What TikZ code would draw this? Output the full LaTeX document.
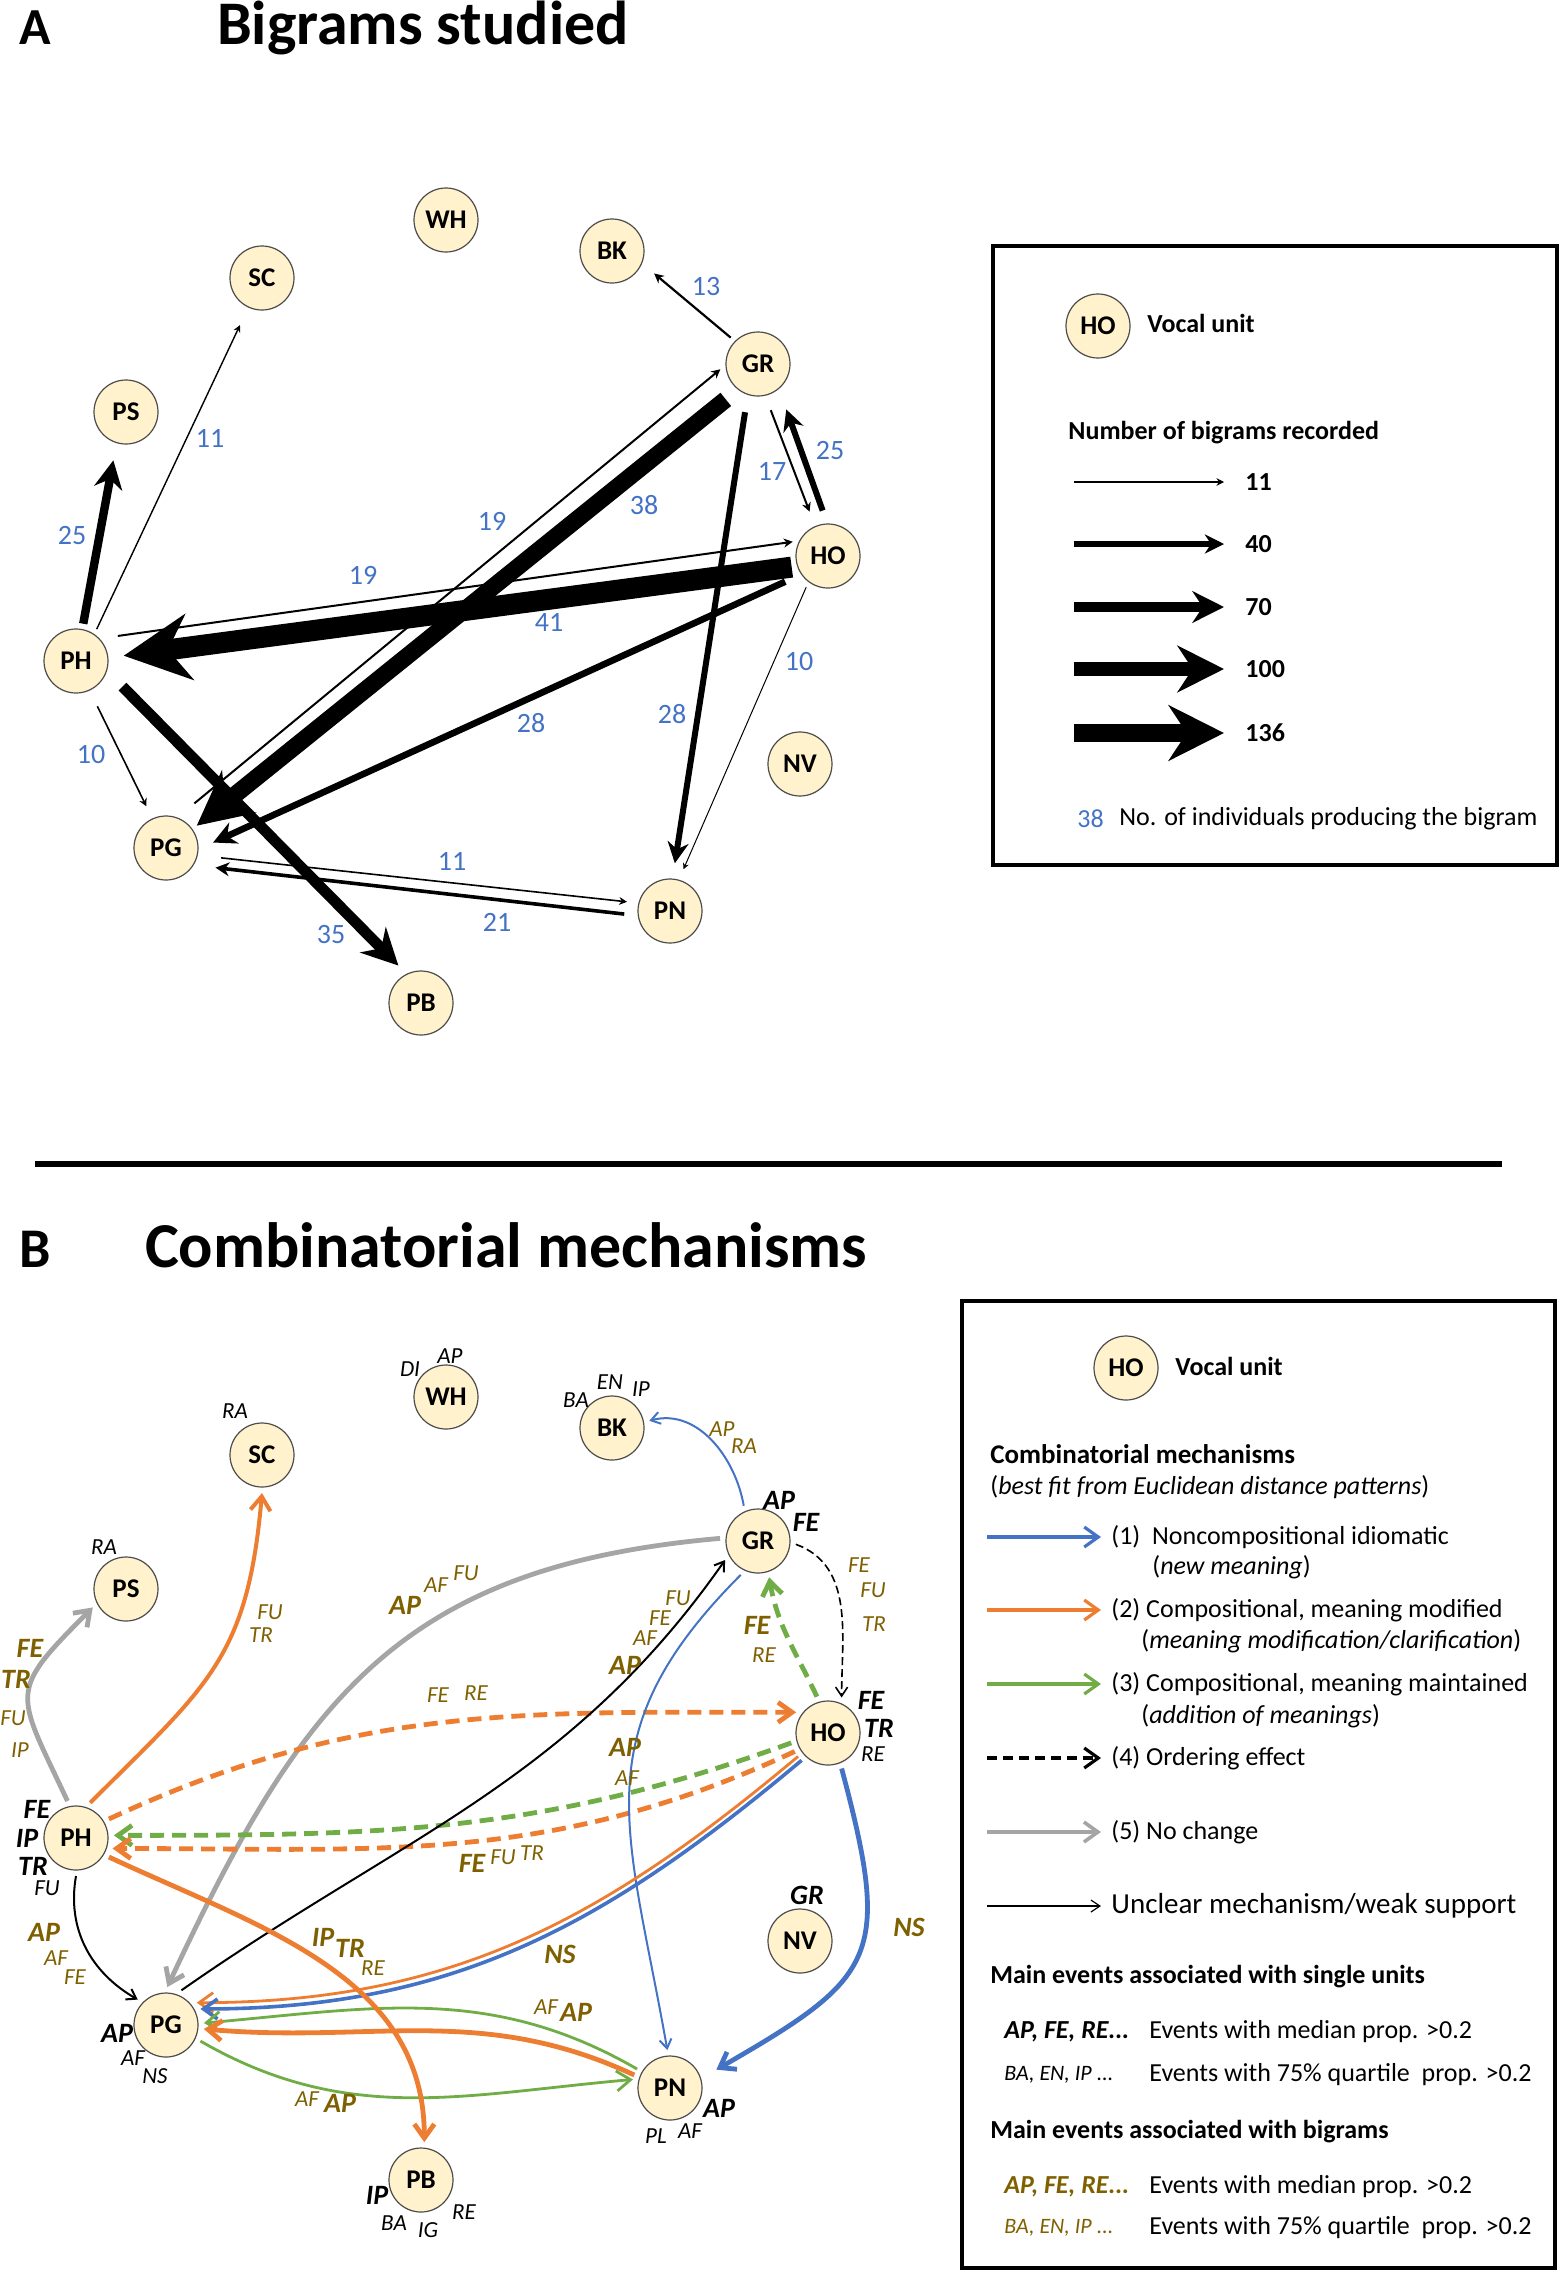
\documentclass[tikz,border=0pt]{standalone}
\usepackage{fontspec}
\setmainfont{Carlito}
\usetikzlibrary{arrows.meta}
\definecolor{cream}{HTML}{FFF2CC}
\definecolor{nblue}{HTML}{4472C4}
\definecolor{norange}{HTML}{ED7D31}
\definecolor{ngreen}{HTML}{70AD47}
\definecolor{ngray}{HTML}{A5A5A5}
\definecolor{olive}{HTML}{7F6000}
\newcommand{\fsz}[1]{\fontsize{#1}{#1}\selectfont}
\tikzset{
  vunit/.style={circle,draw=black!70,line width=0.6pt,fill=cream,minimum size=32pt,inner sep=0pt,outer sep=3pt,font=\fsz{13.5}\bfseries},
  num/.style={text=nblue,font=\fsz{14}},
  ev/.style={inner sep=0pt,font=\fsz{14}\bfseries\itshape},
  evs/.style={inner sep=0pt,font=\fsz{11.5}\itshape},
  bev/.style={ev,text=olive},
  bevs/.style={evs,text=olive},
  txt/.style={anchor=west,inner sep=0pt,font=\fsz{13}},
  btxt/.style={txt,font=\fsz{13}\bfseries},
  big/.style={-{Stealth[length=1.5pt 3,width=1.5pt 3]}},
  barb/.style={-{Straight Barb[length=7pt,width=10pt]}},
  sbarb/.style={-{Straight Barb[length=4.5pt,width=6pt]}},
  idiom/.style={draw=nblue},
  modif/.style={draw=norange},
  maint/.style={draw=ngreen},
  nochange/.style={draw=ngray},
  bdash/.style={dash pattern=on 7pt off 4pt},
}
\begin{document}
\begin{tikzpicture}[x=0.5pt,y=0.5pt]
\useasboundingbox (0,0) rectangle (1560,-2270);

% panel A
\node[anchor=base west,font=\fsz{26}\bfseries] at (12,-44) {A};
\node[anchor=base west,font=\fsz{31}\bfseries] at (210,-44) {Bigrams studied};

\node[vunit] (aWH) at (446,-220) {WH};
\node[vunit] (aSC) at (262,-278) {SC};
\node[vunit] (aBK) at (612,-251) {BK};
\node[vunit] (aPS) at (126,-412) {PS};
\node[vunit] (aGR) at (758,-364) {GR};
\node[vunit] (aHO) at (828,-556) {HO};
\node[vunit] (aPH) at (76,-661) {PH};
\node[vunit] (aNV) at (800,-764) {NV};
\node[vunit] (aPG) at (166,-848) {PG};
\node[vunit] (aPN) at (670,-911) {PN};
\node[vunit] (aPB) at (421,-1003) {PB};

\draw[big,line width=1.1pt,shorten >=5pt] (aGR.136) -- (aBK.-25);
\draw[big,line width=0.7pt,shorten >=7pt] (aPH.57) -- (aSC.245);
\draw[big,line width=4.2pt,shorten >=6pt] (aPH.79) -- (aPS.254);
\draw[big,line width=1pt,shorten <=6pt] (aPH.38) -- (aHO.158);
\draw[big,line width=10.5pt,shorten >=5pt] (aHO.197) -- (aPH.6);
\draw[big,line width=1pt,shorten <=8pt] (aPG.65) -- (aGR.188);
\draw[big,line width=8.5pt,shorten <=5pt] (aGR.230) -- (aPG.36);
\draw[big,line width=1pt,shorten <=5pt,shorten >=5pt] (aGR.-76) -- (aHO.113);
\draw[big,line width=3pt,shorten <=4pt,shorten >=8pt] (aHO.94) -- (aGR.-53);
\draw[big,line width=3pt,shorten <=6pt,shorten >=5pt] (aGR.253) -- (aPN.85);
\draw[big,line width=3.3pt,shorten <=6pt,shorten >=5pt] (aHO.213) -- (aPG.2);
\draw[big,line width=0.5pt,shorten >=3pt] (aHO.235) -- (aPN.73);
\draw[big,line width=0.8pt,shorten <=6pt,shorten >=4pt] (aPH.-65) -- (aPG.115);
\draw[big,line width=5.5pt,shorten <=8pt,shorten >=3pt] (aPH.-22) -- (aPB.119);
\draw[big,line width=0.8pt,shorten <=9pt,shorten >=3pt] (aPG.-12) -- (aPN.167);
\draw[big,line width=1.8pt,shorten <=4pt,shorten >=8pt] (aPN.186) -- (aPG.-28);

\node[num] at (706,-287) {13};
\node[num] at (210,-438) {11};
\node[num] at (72,-536) {25};
\node[num] at (492,-521) {19};
\node[num] at (644,-505) {38};
\node[num] at (772,-471) {17};
\node[num] at (830,-451) {25};
\node[num] at (363,-575) {19};
\node[num] at (549,-622) {41};
\node[num] at (799,-662) {10};
\node[num] at (672,-714) {28};
\node[num] at (531,-723) {28};
\node[num] at (91,-755) {10};
\node[num] at (452,-861) {11};
\node[num] at (497,-922) {21};
\node[num] at (331,-934) {35};

% key A
\draw[line width=2pt] (993,-246) rectangle (1557,-865);
\node[vunit] (aKey) at (1098,-326) {HO};
\node[btxt] at (1147,-323) {Vocal unit};
\node[btxt] at (1068,-433) {Number of bigrams recorded};
\draw[big,line width=0.75pt] (1074,-482) -- (1224,-482);
\draw[big,line width=2.7pt] (1074,-544) -- (1224,-544);
\draw[big,line width=4.75pt] (1074,-607) -- (1224,-607);
\draw[big,line width=7.25pt] (1074,-669) -- (1224,-669);
\draw[big,line width=8.7pt] (1074,-733) -- (1224,-733);
\node[btxt] at (1245,-482) {11};
\node[btxt] at (1245,-544) {40};
\node[btxt] at (1245,-607) {70};
\node[btxt] at (1245,-669) {100};
\node[btxt] at (1245,-733) {136};
\node[txt,text=nblue] at (1077,-819) {38};
\node[txt] at (1119,-819) {No. of individuals producing the bigram};

\draw[line width=2.8pt] (35,-1164) -- (1502,-1164);

% panel B
\node[anchor=base west,font=\fsz{28}\bfseries] at (12,-1267) {B};
\node[anchor=base west,font=\fsz{32}\bfseries] at (138,-1267) {Combinatorial mechanisms};

\node[vunit] (bWH) at (446,-1397) {WH};
\node[vunit] (bSC) at (262,-1455) {SC};
\node[vunit] (bBK) at (612,-1428) {BK};
\node[vunit] (bPS) at (126,-1589) {PS};
\node[vunit] (bGR) at (758,-1541) {GR};
\node[vunit] (bHO) at (828,-1733) {HO};
\node[vunit] (bPH) at (76,-1838) {PH};
\node[vunit] (bNV) at (800,-1941) {NV};
\node[vunit] (bPG) at (166,-2025) {PG};
\node[vunit] (bPN) at (670,-2088) {PN};
\node[vunit] (bPB) at (421,-2180) {PB};

\draw[idiom,line width=1pt,sbarb] (bGR.112) to[out=100,in=15] (bBK.11);
\draw[line width=0.8pt,dash pattern=on 4pt off 2pt,sbarb] (bGR.-5) to[out=-20,in=90] (bHO.69);
\draw[maint,line width=2.4pt,bdash,barb] (bHO.107) to[out=115,in=-80] (bGR.-73);
\draw[nochange,line width=2.4pt,barb] (bGR.176) to[out=185,in=65,looseness=1.15] (bPG.88);
\draw[nochange,line width=2.4pt,barb] (bPH.103) to[out=115,in=225,looseness=1.6] (bPS.209);
\draw[modif,line width=2pt,barb] (bPH.68) to[out=45,in=-95,looseness=1.2] (bSC.-90);
\draw[modif,line width=2.4pt,bdash,barb] (bPH.30) to[out=25,in=180] (bHO.147);
\draw[maint,line width=2.4pt,bdash,barb] (bHO.195) to[out=200,in=0] (bPH.4);
\draw[modif,line width=2.4pt,bdash,barb] (bHO.209) to[out=205,in=0] (bPH.-16);
\draw[line width=1pt,sbarb] (bPG.66) to[out=35,in=235] (bGR.210);
\draw[line width=1pt,sbarb] (bPH.-90) to[out=-100,in=150] (bPG.138);
\draw[idiom,line width=1pt,sbarb] (bGR.243) to[out=225,in=100,looseness=1.2] (bPN.94);
\draw[modif,line width=1.4pt,barb] (bHO.218) to[out=220,in=0] (bPG.36);
\draw[idiom,line width=1.8pt,barb] (bHO.226) to[out=220,in=0] (bPG.25);
\draw[maint,line width=1.4pt,barb] (bPN.150) to[out=150,in=5] (bPG.3);
\draw[modif,line width=2.4pt,barb] (bPN.160) to[out=155,in=-5] (bPG.-6);
\draw[maint,line width=1.4pt,barb] (bPG.-25) to[out=-30,in=185] (bPN.167);
\draw[modif,line width=2.4pt,barb] (bPH.-30) to[out=-25,in=90] (bPB.85);
\draw[idiom,line width=2.4pt,barb,shorten >=6pt] (bHO.-69) to[out=-75,in=30,looseness=1.5] (bPN.19);

% events of single units
\node[evs] at (410,-1369) {DI};
\node[evs] at (450,-1356) {AP};
\node[evs] at (235,-1411) {RA};
\node[evs] at (104,-1547) {RA};
\node[evs] at (576,-1400) {BA};
\node[evs] at (610,-1382) {EN};
\node[evs] at (641,-1389) {IP};
\node[ev] at (779,-1500) {AP};
\node[ev] at (806,-1522) {FE};
\node[ev] at (871,-1700) {FE};
\node[ev] at (879,-1728) {TR};
\node[evs] at (873,-1754) {RE};
\node[ev] at (37,-1809) {FE};
\node[ev] at (27,-1838) {IP};
\node[ev] at (33,-1866) {TR};
\node[evs] at (47,-1888) {FU};
\node[ev] at (117,-2033) {AP};
\node[evs] at (133,-2058) {AF};
\node[evs] at (155,-2076) {NS};
\node[ev] at (377,-2195) {IP};
\node[evs] at (394,-2223) {BA};
\node[evs] at (428,-2230) {IG};
\node[evs] at (464,-2212) {RE};
\node[ev] at (807,-1895) {GR};
\node[ev] at (719,-2108) {AP};
\node[evs] at (656,-2136) {PL};
\node[evs] at (690,-2131) {AF};

% events of bigrams
\node[bevs] at (722,-1429) {AP};
\node[bevs] at (744,-1446) {RA};
\node[bevs] at (859,-1565) {FE};
\node[bevs] at (873,-1590) {FU};
\node[bevs] at (874,-1624) {TR};
\node[bev] at (757,-1625) {FE};
\node[bevs] at (764,-1655) {RE};
\node[bev] at (405,-1605) {AP};
\node[bevs] at (436,-1585) {AF};
\node[bevs] at (466,-1573) {FU};
\node[bev] at (30,-1648) {FE};
\node[bev] at (16,-1679) {TR};
\node[bevs] at (13,-1718) {FU};
\node[bevs] at (20,-1750) {IP};
\node[bevs] at (270,-1612) {FU};
\node[bevs] at (261,-1635) {TR};
\node[bevs] at (438,-1695) {FE};
\node[bevs] at (476,-1693) {RE};
\node[bev] at (472,-1863) {FE};
\node[bevs] at (503,-1857) {FU};
\node[bevs] at (532,-1853) {TR};
\node[bev] at (625,-1665) {AP};
\node[bevs] at (645,-1638) {AF};
\node[bevs] at (660,-1618) {FE};
\node[bevs] at (678,-1598) {FU};
\node[bev] at (625,-1747) {AP};
\node[bevs] at (627,-1778) {AF};
\node[bev] at (560,-1954) {NS};
\node[bev] at (909,-1927) {NS};
\node[bevs] at (546,-2007) {AF};
\node[bev] at (576,-2012) {AP};
\node[bevs] at (307,-2099) {AF};
\node[bev] at (340,-2103) {AP};
\node[bev] at (44,-1932) {AP};
\node[bevs] at (56,-1958) {AF};
\node[bevs] at (75,-1977) {FE};
\node[bev] at (323,-1937) {IP};
\node[bev] at (350,-1948) {TR};
\node[bevs] at (373,-1968) {RE};

% key B
\draw[line width=2pt] (962,-1301) rectangle (1555,-2268);
\node[vunit] (bKey) at (1126,-1368) {HO};
\node[btxt] at (1175,-1366) {Vocal unit};
\node[btxt,font=\fsz{13.5}\bfseries] at (990,-1454) {Combinatorial mechanisms};
\node[txt] at (990,-1487) {(\textit{best fit from Euclidean distance patterns})};
\draw[idiom,line width=1.6pt,barb] (987,-1537) -- (1101,-1537);
\draw[modif,line width=1.6pt,barb] (987,-1610) -- (1101,-1610);
\draw[maint,line width=1.6pt,barb] (987,-1684) -- (1101,-1684);
\draw[line width=1.6pt,dash pattern=on 5pt off 3pt,barb] (987,-1758) -- (1101,-1758);
\draw[nochange,line width=1.8pt,barb] (987,-1832) -- (1101,-1832);
\draw[line width=0.6pt,sbarb] (987,-1906) -- (1101,-1906);
\node[txt] at (1111,-1537) {(1)\ \ Noncompositional idiomatic};
\node[txt] at (1152,-1567) {(\textit{new meaning})};
\node[txt] at (1111,-1610) {(2) Compositional, meaning modified};
\node[txt] at (1141,-1641) {(\textit{meaning modification/clarification})};
\node[txt] at (1111,-1684) {(3) Compositional, meaning maintained};
\node[txt] at (1141,-1716) {(\textit{addition of meanings})};
\node[txt] at (1111,-1758) {(4) Ordering effect};
\node[txt] at (1111,-1832) {(5) No change};
\node[txt,font=\fsz{14.5}] at (1111,-1906) {Unclear mechanism/weak support};
\node[btxt] at (990,-1977) {Main events associated with single units};
\node[txt,font=\fsz{13}\bfseries\itshape] at (1004,-2032) {AP, FE, RE...};
\node[txt] at (1149,-2032) {Events with median prop. >0.2};
\node[txt,font=\fsz{11}\itshape] at (1004,-2075) {BA, EN, IP ...};
\node[txt] at (1149,-2075) {Events with 75\% quartile\ \ prop. >0.2};
\node[btxt] at (990,-2132) {Main events associated with bigrams};
\node[txt,font=\fsz{13}\bfseries\itshape,text=olive] at (1004,-2187) {AP, FE, RE...};
\node[txt] at (1149,-2187) {Events with median prop. >0.2};
\node[txt,font=\fsz{11}\itshape,text=olive] at (1004,-2228) {BA, EN, IP ...};
\node[txt] at (1149,-2228) {Events with 75\% quartile\ \ prop. >0.2};
\end{tikzpicture}
\end{document}
